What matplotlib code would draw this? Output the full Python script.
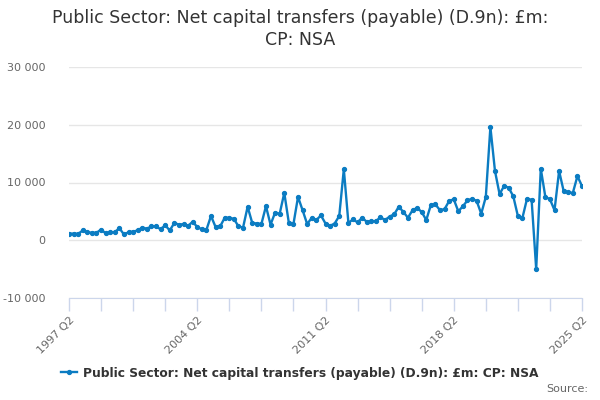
import matplotlib
matplotlib.use('Agg')
import matplotlib.pyplot as plt
from matplotlib.ticker import FuncFormatter

# quarterly values, 1997 Q2 .. 2025 Q2 (£m)
start_year, start_q = 1997, 2
values = [
    1150, 1150, 1100, 1700, 1400, 1300, 1300, 1850, 1200, 1400,
    1400, 2100, 1000, 1400, 1500, 1700, 2200, 2000, 2400, 2400,
    1900, 2600, 1700, 3000, 2700, 2800, 2500, 3200, 2300, 1900,
    1800, 4200, 2300, 2400, 3900, 3900, 3700, 2400, 2200, 5800,
    3000, 2900, 2800, 5900, 2700, 4800, 4600, 8200, 3000, 2800,
    7500, 5200, 2800, 3900, 3500, 4300, 2900, 2500, 2900, 4200,
    12300, 3000, 3600, 3100, 3900, 3200, 3300, 3300, 4000, 3500,
    4100, 4500, 5800, 4900, 3900, 5200, 5600, 4900, 3500, 6100,
    6200, 5200, 5400, 6800, 7100, 5000, 5900, 6900, 7200, 6800,
    4600, 7500, 19600, 12000, 8000, 9400, 9100, 7600, 4200, 3900,
    7200, 7000, -5000, 12400, 7500, 7100, 5200, 12000, 8500, 8300,
    8200, 11100, 9400,
]
labels = []
y, q = start_year, start_q
for _ in values:
    labels.append(f"{y} Q{q}")
    q += 1
    if q > 4:
        q = 1
        y += 1

series_name = 'Public Sector: Net capital transfers (payable) (D.9n): £m: CP: NSA'
title = 'Public Sector: Net capital transfers (payable) (D.9n): £m:\nCP: NSA'
line_color = '#0b7cc2'

fig = plt.figure(figsize=(6, 4), dpi=100)
ax = fig.add_axes([69 / 600, 1 - 298 / 400, 513 / 600, 231 / 400])

x = list(range(len(values)))
ax.plot(x, values, color=line_color, lw=1.7, marker='o', ms=2.8,
        label=series_name, zorder=3)

ax.set_xlim(0, len(values) - 1)
ax.set_ylim(-10000, 30000)
ax.set_yticks([-10000, 0, 10000, 20000, 30000])
ax.yaxis.set_major_formatter(FuncFormatter(lambda v, p: f"{int(v):,}".replace(',', ' ')))
ax.grid(axis='y', color='#e6e6e6', lw=1)
ax.set_axisbelow(True)

tick_pos = list(range(0, len(values), 7))
ax.set_xticks(tick_pos)
ax.set_xticklabels([labels[i] if i % 28 == 0 else '' for i in tick_pos],
                   rotation=45, ha='right', rotation_mode='anchor')

for s in ('top', 'right', 'left'):
    ax.spines[s].set_visible(False)
ax.spines['bottom'].set_color('#ccd6eb')
ax.tick_params(axis='x', colors='#ccd6eb', length=9, width=1, labelcolor='#666666',
               labelsize=8, pad=3)
ax.tick_params(axis='y', length=0, labelcolor='#666666', labelsize=8, pad=17)

fig.text(0.5, 1 - 29 / 400, title, ha='center', va='center', fontsize=12.5,
         color='#333333', linespacing=1.3)

fig.legend(loc='center', bbox_to_anchor=(0.5, 1 - 373 / 400), frameon=False,
           handlelength=1.3, handletextpad=0.5,
           prop={'weight': 'bold', 'size': 8.8}, labelcolor='#333333')

fig.text(588 / 600, 1 - 389 / 400, 'Source:', ha='right', va='center',
         fontsize=8, color='#666666')

fig.savefig('out.png', dpi=100)
